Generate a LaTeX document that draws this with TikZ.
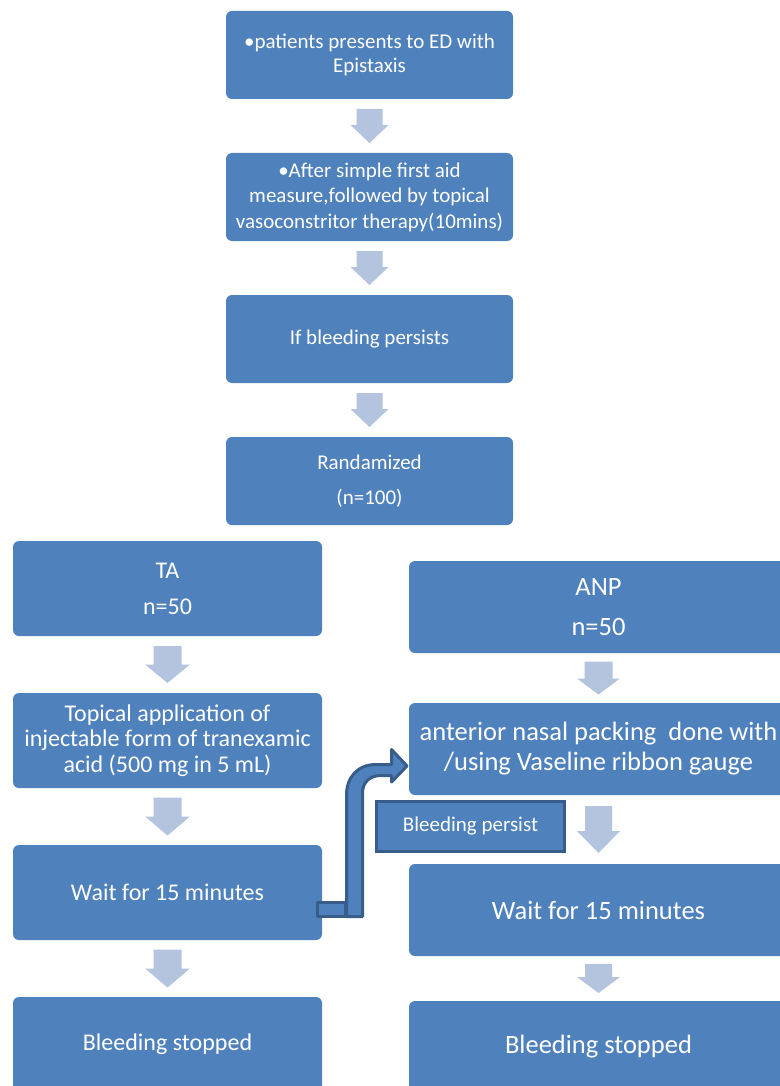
\documentclass[tikz,border=0pt]{standalone}
\usepackage{fontspec}
\setmainfont{Carlito}
\usetikzlibrary{calc}
\definecolor{boxblue}{RGB}{79,129,189}
\definecolor{arrblue}{RGB}{180,196,222}
\definecolor{darkedge}{RGB}{56,93,138}
% block arrow between two named nodes: from, to, half length, head length, shaft half width, head half width
\newcommand{\blkarrow}[6]{%
  \begin{scope}[shift={($(#1.south)!0.5!(#2.north)$)}]
    \fill[arrblue] (-#5,-#3) -- (#5,-#3) -- (#5,#3-#4) -- (#6,#3-#4) -- (0,#3) -- (-#6,#3-#4) -- (-#5,#3-#4) -- cycle;
  \end{scope}}
\begin{document}
\begin{tikzpicture}[x=1pt,y=-1pt,
  box/.style={rectangle, rounded corners=6pt, fill=boxblue, text=white, align=center, inner sep=0pt},
  topbox/.style={box, minimum width=287, minimum height=88},
  leftbox/.style={box, minimum width=309, minimum height=95},
  rightbox/.style={box, minimum width=379, minimum height=92},
  persistbox/.style={rectangle, fill=boxblue, draw=darkedge, line width=3pt, text=white,
     minimum width=188, minimum height=50, inner sep=0pt, font=\fontsize{21}{25}\selectfont},
  bentarrow/.style={fill=boxblue, draw=darkedge, line width=3pt, line join=round}
]
\useasboundingbox (0,0) rectangle (779,1086);
\fill[white] (0,0) rectangle (779,1086);

% top column
\node[topbox, font=\fontsize{21}{24}\selectfont] (b1) at (369.5,55) {•patients presents to ED with\\Epistaxis};
\node[topbox, font=\fontsize{21}{25.5}\selectfont] (b2) at (369.5,197) {•After simple first aid\\measure,followed by topical\\vasoconstritor therapy(10mins)};
\node[topbox, font=\fontsize{21}{25}\selectfont] (b3) at (369.5,339) {If bleeding persists};
\node[topbox, font=\fontsize{21}{35}\selectfont] (b4) at (369.5,481) {Randamized\\(n=100)};

% left column
\node[leftbox, font=\fontsize{24}{36}\selectfont] (ta) at (167.5,588.5) {TA\\n=50};
\node[leftbox, font=\fontsize{24}{25.5}\selectfont] (tp) at (167.5,740.5) {Topical application of\\injectable form of tranexamic\\acid (500 mg in 5 mL)};
\node[leftbox, font=\fontsize{24}{29}\selectfont] (wl) at (167.5,892.5) {Wait for 15 minutes};
\node[leftbox, font=\fontsize{24}{29}\selectfont] (sl) at (167.5,1044.5) {Bleeding stopped};

% right column
\node[rightbox, font=\fontsize{26.5}{40}\selectfont] (anp) at (598.5,607) {ANP\\n=50};
\node[rightbox, font=\fontsize{26.5}{30}\selectfont] (an) at (598.5,749) {anterior nasal packing\ \ done with\\/using Vaseline ribbon gauge};
\node[rightbox, font=\fontsize{26.5}{32}\selectfont] (wr) at (598.5,910) {Wait for 15 minutes};
\node[rightbox, font=\fontsize{26.5}{32}\selectfont] (sr) at (598.5,1047) {Bleeding stopped};

% block arrows
\blkarrow{b1}{b2}{17}{18}{13}{19}
\blkarrow{b2}{b3}{17}{18}{13}{19}
\blkarrow{b3}{b4}{17}{18}{13}{19}
\blkarrow{ta}{tp}{18.5}{18.5}{14}{22.5}
\blkarrow{tp}{wl}{19}{19}{14}{22.5}
\blkarrow{wl}{sl}{19}{19}{14}{22.5}
\blkarrow{anp}{an}{16.5}{16}{14}{21.5}
\blkarrow{an}{wr}{23.5}{22}{13.5}{21.5}
\blkarrow{wr}{sr}{14.5}{16}{13.5}{21.5}

% bent arrow from left "Wait" to anterior packing
\coordinate (bendstart) at (346.5,916.5);
\coordinate (bendtip) at (407,766);
\draw[bentarrow] (bendstart) -- (346.5,795)
  .. controls (346.5,777) and (358,764.5) .. (376,764.5)
  -- (391.5,764.5) -- (391.5,749.5) -- (bendtip) -- (391.5,782) -- (391.5,775.5) -- (381,775.5)
  .. controls (370,775.5) and (362.5,782) .. (362.5,793)
  -- (362.5,916.5) -- cycle;
\draw[bentarrow] (317.5,902.5) rectangle (345.5,916.5);

\node[persistbox] (bp) at (470.5,826.5) {Bleeding persist};
\end{tikzpicture}
\end{document}
